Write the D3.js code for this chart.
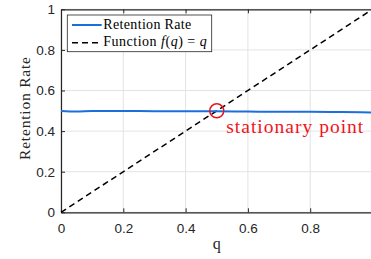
<!DOCTYPE html>
<html>
<head>
<meta charset="utf-8">
<script src="https://cdn.jsdelivr.net/npm/d3@7"></script>
<style>
  body { margin: 0; background: #fff; }
  svg { display: block; }
</style>
</head>
<body>
<div id="chart"></div>
<script>
// retention rate vs q
var qValues = [0, 0.05, 0.1, 0.2, 0.3, 0.4, 0.5, 0.6, 0.7, 0.8, 0.9, 1.0];
var retention = [0.4985, 0.496, 0.499, 0.499, 0.498, 0.498, 0.498, 0.496, 0.495, 0.495, 0.494, 0.492];
var identity = [0, 1];
var xTicks = [0, 0.2, 0.4, 0.6, 0.8, 1];
var xTickLabels = ["0", "0.2", "0.4", "0.6", "0.8", ""];
var yTicks = [0, 0.2, 0.4, 0.6, 0.8, 1];
var yTickLabels = ["0", "0.2", "0.4", "0.6", "0.8", "1"];
var stationary = { q: 0.5, r: 0.5 };

var svgWidth = 371;
var svgHeight = 259;

var margin = { top: 9.3, right: -1.5, bottom: 46.7, left: 61 };
var width = svgWidth - margin.left - margin.right;
var height = svgHeight - margin.top - margin.bottom;

var serif = "font-family:'Liberation Serif',serif;";
var sans = "font-family:'Liberation Sans',sans-serif;";

var svg = d3.select("#chart")
  .append("svg")
  .attr("width", svgWidth)
  .attr("height", svgHeight);

var chartGroup = svg.append("g")
  .attr("transform", `translate(${margin.left}, ${margin.top})`);

var xScale = d3.scaleLinear().domain([0, 1]).range([0, width]);
var yScale = d3.scaleLinear().domain([0, 1]).range([height, 0]);

// grid
chartGroup.append("g")
  .selectAll("line")
  .data(xTicks)
  .enter()
  .append("line")
  .attr("x1", d => xScale(d))
  .attr("x2", d => xScale(d))
  .attr("y1", 0)
  .attr("y2", height)
  .attr("stroke", "#e3e3e3")
  .attr("stroke-width", 1);

chartGroup.append("g")
  .selectAll("line")
  .data(yTicks)
  .enter()
  .append("line")
  .attr("x1", 0)
  .attr("x2", width)
  .attr("y1", d => yScale(d))
  .attr("y2", d => yScale(d))
  .attr("stroke", "#e3e3e3")
  .attr("stroke-width", 1);

// axes
var bottomAxis = d3.axisBottom(xScale).tickValues(xTicks).tickSizeInner(-4).tickSizeOuter(0)
  .tickPadding(11).tickFormat((d, i) => xTickLabels[i]);
var leftAxis = d3.axisLeft(yScale).tickValues(yTicks).tickSizeInner(-4).tickSizeOuter(0)
  .tickPadding(6).tickFormat((d, i) => yTickLabels[i]);
var topAxis = d3.axisTop(xScale).tickValues(xTicks).tickSizeInner(-4).tickSizeOuter(0).tickFormat("");

function styleAxis(g) {
  g.select(".domain").attr("stroke", "#262626").attr("stroke-width", 1.2);
  g.selectAll(".tick line").attr("stroke", "#262626");
  g.selectAll(".tick text")
    .attr("fill", "#262626")
    .attr("style", sans + "font-size:13.5px");
}

chartGroup.append("g").attr("transform", `translate(0, ${height})`).call(bottomAxis).call(styleAxis);
chartGroup.append("g").call(leftAxis).call(styleAxis);
chartGroup.append("g").call(topAxis).call(styleAxis);

// identity line
var line = d3.line().x(d => xScale(d)).y(d => yScale(d));
chartGroup.append("path")
  .datum(identity)
  .attr("d", line)
  .attr("fill", "none")
  .attr("stroke", "#000")
  .attr("stroke-width", 1.5)
  .attr("stroke-dasharray", "6,4");

// retention
var retLine = d3.line()
  .curve(d3.curveMonotoneX)
  .x((d, i) => xScale(qValues[i]))
  .y(d => yScale(d));
chartGroup.append("path")
  .datum(retention)
  .attr("d", retLine)
  .attr("fill", "none")
  .attr("stroke", "#1b6fdc")
  .attr("stroke-width", 2);

// stationary point
chartGroup.append("circle")
  .attr("cx", xScale(stationary.q))
  .attr("cy", yScale(stationary.r))
  .attr("r", 7)
  .attr("fill", "none")
  .attr("stroke", "#e8141b")
  .attr("stroke-width", 1.5);

chartGroup.append("text")
  .attr("x", xScale(stationary.q) + 9.5)
  .attr("y", yScale(stationary.r) + 22.2)
  .attr("fill", "#f0141e")
  .attr("textLength", 137)
  .attr("lengthAdjust", "spacing")
  .attr("style", serif + "font-size:19.5px")
  .text("stationary point");

// legend
var legend = chartGroup.append("g").attr("transform", "translate(6.3, 5.7)");
legend.append("rect")
  .attr("x", 0).attr("y", 0)
  .attr("width", 144.4).attr("height", 36.7)
  .attr("fill", "#fff")
  .attr("stroke", "#262626")
  .attr("stroke-width", 0.8);

legend.append("line")
  .attr("x1", 4.7).attr("x2", 34.4).attr("y1", 10).attr("y2", 10)
  .attr("stroke", "#1b6fdc").attr("stroke-width", 2);
legend.append("line")
  .attr("x1", 4.7).attr("x2", 34.4).attr("y1", 27.7).attr("y2", 27.7)
  .attr("stroke", "#000").attr("stroke-width", 1.5).attr("stroke-dasharray", "6,4");

legend.append("text")
  .attr("x", 36).attr("y", 14)
  .attr("textLength", 88)
  .attr("lengthAdjust", "spacing")
  .attr("style", serif + "font-size:14px")
  .attr("fill", "#000")
  .text("Retention Rate");

var t2 = legend.append("text")
  .attr("x", 36).attr("y", 30.7)
  .attr("textLength", 103.4)
  .attr("lengthAdjust", "spacing")
  .attr("style", serif + "font-size:14px")
  .attr("fill", "#000");
t2.append("tspan").text("Function ");
t2.append("tspan").attr("style", "font-style:italic").text("f");
t2.append("tspan").text("(");
t2.append("tspan").attr("style", "font-style:italic").text("q");
t2.append("tspan").text(") = ");
t2.append("tspan").attr("style", "font-style:italic").text("q");

// axis labels
chartGroup.append("text")
  .attr("x", width / 2)
  .attr("y", height + 37)
  .attr("text-anchor", "middle")
  .attr("style", serif + "font-size:16px")
  .attr("fill", "#262626")
  .text("q");

chartGroup.append("text")
  .attr("transform", "rotate(-90)")
  .attr("x", -(height / 2) + 2.3)
  .attr("y", -31)
  .attr("text-anchor", "middle")
  .attr("textLength", 103)
  .attr("lengthAdjust", "spacing")
  .attr("style", serif + "font-size:15.5px")
  .attr("fill", "#262626")
  .text("Retention Rate");
</script>
</body>
</html>
